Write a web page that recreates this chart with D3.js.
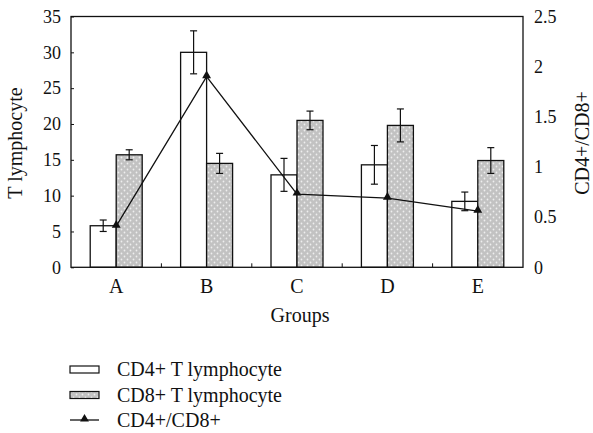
<!DOCTYPE html>
<meta charset="utf-8">
<script src="https://d3js.org/d3.v7.min.js"></script>
<style>
body { margin: 0; background: #fff; }
text { font-family: "Liberation Serif", "Times New Roman", serif; fill: #111; }
</style>
<body>
<script>

// data
var groups = ["A", "B", "C", "D", "E"];
var cd4 = [5.8, 30.0, 12.9, 14.3, 9.2];
var cd4Err = [0.8, 3.0, 2.3, 2.7, 1.3];
var cd8 = [15.7, 14.5, 20.5, 19.8, 14.9];
var cd8Err = [0.7, 1.4, 1.3, 2.3, 1.8];
var ratio = [0.41, 1.90, 0.73, 0.69, 0.56];
var leftTicks = [0, 5, 10, 15, 20, 25, 30, 35];
var rightTicks = [0, 0.5, 1, 1.5, 2, 2.5];
var seriesNames = ["CD4+ T lymphocyte", "CD8+ T lymphocyte", "CD4+/CD8+"];

var W = 593, H = 433;
var plotL = 71, plotR = 523, plotT = 16.5, plotB = 267.3;

var svg = d3.select("body").append("svg")
    .attr("width", W)
    .attr("height", H);

var defs = svg.append("defs");
var pat = defs.append("pattern")
    .attr("id", "dots")
    .attr("patternUnits", "userSpaceOnUse")
    .attr("width", 6)
    .attr("height", 6);
pat.append("rect").attr("width", 6).attr("height", 6).attr("fill", "#c2c2c2");
pat.append("circle").attr("cx", 1.5).attr("cy", 1.5).attr("r", 0.9).attr("fill", "#eeeeee");
pat.append("circle").attr("cx", 4.5).attr("cy", 4.5).attr("r", 0.9).attr("fill", "#eeeeee");

var x = d3.scaleBand()
    .domain(groups)
    .range([plotL, plotR])
    .paddingInner(0.425)
    .paddingOuter(0.2125);

var xSub = d3.scaleBand()
    .domain(["cd4", "cd8"])
    .range([0, x.bandwidth()]);

var y = d3.scaleLinear().domain([0, 35]).range([plotB, plotT]);
var y2 = d3.scaleLinear().domain([0, 2.5]).range([plotB, plotT]);

// bars
var series = [
    {key: "cd4", vals: cd4, err: cd4Err, fill: "#fff"},
    {key: "cd8", vals: cd8, err: cd8Err, fill: "url(#dots)"}
];

series.forEach(function(s) {
    svg.append("g").selectAll("rect")
        .data(groups)
        .enter()
        .append("rect")
        .attr("x", function(d) { return x(d) + xSub(s.key); })
        .attr("y", function(d, i) { return y(s.vals[i]); })
        .attr("width", xSub.bandwidth())
        .attr("height", function(d, i) { return plotB - y(s.vals[i]); })
        .attr("fill", s.fill)
        .attr("stroke", "#111")
        .attr("stroke-width", 1.3);
});

// error bars
series.forEach(function(s) {
    var g = svg.append("g").attr("stroke", "#111").attr("stroke-width", 1.2);
    groups.forEach(function(d, i) {
        var cx = x(d) + xSub(s.key) + xSub.bandwidth() / 2;
        var hi = y(s.vals[i] + s.err[i]), lo = y(s.vals[i] - s.err[i]);
        g.append("line").attr("x1", cx).attr("x2", cx).attr("y1", hi).attr("y2", lo);
        g.append("line").attr("x1", cx - 3.5).attr("x2", cx + 3.5).attr("y1", hi).attr("y2", hi);
        g.append("line").attr("x1", cx - 3.5).attr("x2", cx + 3.5).attr("y1", lo).attr("y2", lo);
    });
});

// ratio line
var line = d3.line()
    .x(function(d, i) { return x(groups[i]) + x.bandwidth() / 2; })
    .y(function(d) { return y2(d); });

svg.append("path")
    .datum(ratio)
    .attr("d", line)
    .attr("fill", "none")
    .attr("stroke", "#111")
    .attr("stroke-width", 1.3);

var tri = d3.symbol().type(d3.symbolTriangle).size(34);
svg.append("g").selectAll("path")
    .data(ratio)
    .enter()
    .append("path")
    .attr("d", tri)
    .attr("transform", function(d, i) {
        return "translate(" + (x(groups[i]) + x.bandwidth() / 2) + "," + (y2(d) - 1) + ")";
    })
    .attr("fill", "#111");

// frame
svg.append("rect")
    .attr("x", plotL).attr("y", plotT)
    .attr("width", plotR - plotL).attr("height", plotB - plotT)
    .attr("fill", "none")
    .attr("stroke", "#111")
    .attr("stroke-width", 1.3);

// left axis
var yAxis = d3.axisLeft(y).tickValues(leftTicks).tickSizeInner(-3).tickSizeOuter(0).tickPadding(10);
var gy = svg.append("g").attr("transform", "translate(" + plotL + ",0)").call(yAxis);
gy.select(".domain").remove();
gy.selectAll("line").attr("stroke", "#111");
gy.selectAll("text").style("font-size", "18px").style("font-family", "Liberation Serif");

// right axis
var yAxis2 = d3.axisRight(y2).tickValues(rightTicks).tickSize(0).tickPadding(11)
    .tickFormat(d3.format("~g"));
var gy2 = svg.append("g").attr("transform", "translate(" + plotR + ",0)").call(yAxis2);
gy2.select(".domain").remove();
gy2.selectAll("text").style("font-size", "18px").style("font-family", "Liberation Serif");

// bottom axis with inner ticks at group boundaries
var gx = svg.append("g").attr("transform", "translate(0," + plotB + ")");
gx.selectAll("line")
    .data(groups.slice(1))
    .enter()
    .append("line")
    .attr("x1", function(d) { return x(d) - x.step() * x.paddingInner() / 2; })
    .attr("x2", function(d) { return x(d) - x.step() * x.paddingInner() / 2; })
    .attr("y1", 0).attr("y2", -4)
    .attr("stroke", "#111");
gx.selectAll("text")
    .data(groups)
    .enter()
    .append("text")
    .attr("x", function(d) { return x(d) + x.bandwidth() / 2; })
    .attr("y", 26)
    .attr("text-anchor", "middle")
    .style("font-size", "20px")
    .text(function(d) { return d; });

// axis titles
svg.append("text")
    .attr("transform", "translate(22,143) rotate(-90)")
    .attr("text-anchor", "middle")
    .style("font-size", "20px")
    .text("T lymphocyte");

svg.append("text")
    .attr("transform", "translate(589,143) rotate(-90)")
    .attr("text-anchor", "middle")
    .style("font-size", "20px")
    .text("CD4+/CD8+");

svg.append("text")
    .attr("x", (plotL + plotR) / 2 + 3)
    .attr("y", 322)
    .attr("text-anchor", "middle")
    .style("font-size", "20px")
    .text("Groups");

// legend
var leg = svg.append("g");
var rowY = [369.5, 395, 420];
leg.append("rect").attr("x", 70).attr("y", rowY[0] - 3.5).attr("width", 29).attr("height", 7)
    .attr("fill", "#fff").attr("stroke", "#111").attr("stroke-width", 1.2);
leg.append("rect").attr("x", 70).attr("y", rowY[1] - 3.5).attr("width", 29).attr("height", 7)
    .attr("fill", "url(#dots)").attr("stroke", "#111").attr("stroke-width", 1.2);
leg.append("line").attr("x1", 70).attr("x2", 99).attr("y1", rowY[2]).attr("y2", rowY[2])
    .attr("stroke", "#111").attr("stroke-width", 1.3);
leg.append("path").attr("d", tri).attr("transform", "translate(84.5," + (rowY[2] - 1) + ")")
    .attr("fill", "#111");
leg.selectAll("text")
    .data(seriesNames)
    .enter()
    .append("text")
    .attr("x", 117)
    .attr("y", function(d, i) { return rowY[i] + 6.5; })
    .style("font-size", "20px")
    .text(function(d) { return d; });

</script>
</body>
</html>
